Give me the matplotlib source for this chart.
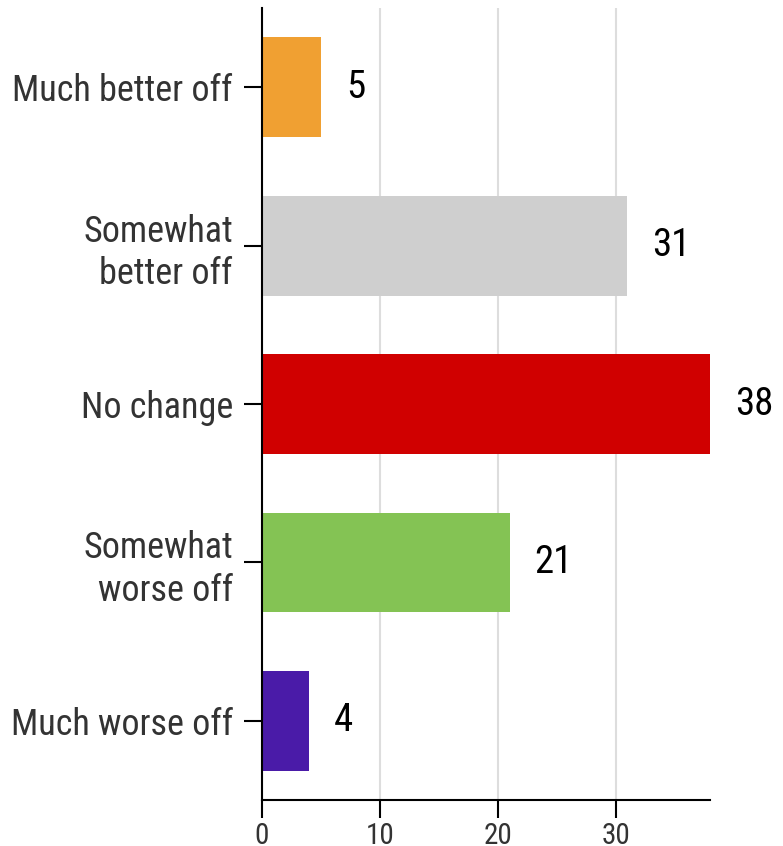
import matplotlib
matplotlib.use("Agg")
import matplotlib.pyplot as plt
from matplotlib import font_manager

# pick a condensed face if one is around
names = set(f.name for f in font_manager.fontManager.ttflist)
family = 'Roboto'
for cand in ['Roboto Condensed', 'Liberation Sans Narrow', 'DejaVu Sans Condensed']:
    if cand in names:
        family = cand
        break
plt.rcParams['font.family'] = [family, 'DejaVu Sans']

labels = ['Much better off', 'Somewhat\nbetter off', 'No change', 'Somewhat\nworse off', 'Much worse off']
values = [5, 31, 38, 21, 4]
colors = ['#F0A032', '#CFCFCF', '#D00000', '#84C354', '#4A1BA8']
xticks = [0, 10, 20, 30]

fig = plt.figure(figsize=(7.83, 8.46), dpi=100)
ax = fig.add_axes([0.3346, 0.0544, 0.5722, 0.9361])

pos = list(range(len(labels)))
ax.barh(pos, values, height=0.63, color=colors, zorder=3)
for p, v in zip(pos, values):
    ax.annotate(str(v), xy=(v, p), xytext=(18, 0), textcoords='offset points',
                ha='left', va='center', fontsize=28, color='black')

ax.set_ylim(4.5, -0.5)
ax.set_xlim(0, 38)
ax.set_yticks(pos)
ax.set_yticklabels(labels, fontsize=26, color='#333333', linespacing=1.22)
ax.set_xticks(xticks)
ax.set_xticklabels([str(t) for t in xticks], fontsize=21, color='#333333')
ax.tick_params(axis='y', length=13, width=1.5, direction='out', pad=8)
ax.tick_params(axis='x', length=13, width=1.5, direction='out', pad=3)
ax.grid(axis='x', color='#dddddd', linewidth=1.5, zorder=0)
for s in ['top', 'right']:
    ax.spines[s].set_visible(False)
for s in ['left', 'bottom']:
    ax.spines[s].set_linewidth(1.5)
    ax.spines[s].set_zorder(4)

fig.savefig('out.png', dpi=100)
